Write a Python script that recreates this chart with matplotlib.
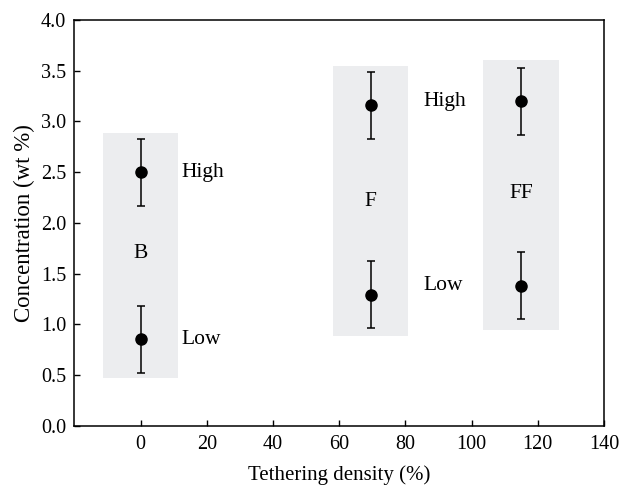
import matplotlib
matplotlib.use("Agg")
import matplotlib.pyplot as plt
from matplotlib.patches import Rectangle

plt.rcParams['font.family'] = ['Liberation Serif', 'DejaVu Serif']
plt.rcParams['font.size'] = 15

# Data
groups = ["B", "F", "FF"]
x_pos = [0, 69.5, 115]
high_vals = [2.50, 3.16, 3.20]
low_vals = [0.85, 1.29, 1.38]
err = [0.33, 0.33, 0.33]
box_x = [(-11.5, 11.2), (58.2, 80.9), (103.6, 126.4)]
box_y = [(0.47, 2.89), (0.88, 3.55), (0.94, 3.61)]
group_label_y = [1.70, 2.21, 2.285]

fig = plt.figure(figsize=(6.2, 4.87), dpi=100)
ax = fig.add_axes([0.120, 0.126, 0.854, 0.833])

for (x0, x1), (y0, y1) in zip(box_x, box_y):
    ax.add_patch(Rectangle((x0, y0), x1 - x0, y1 - y0, facecolor='#ecedef',
                           edgecolor='none', zorder=0))

ax.errorbar(x_pos, high_vals, yerr=err, fmt='o', color='black', markersize=8,
            capsize=3, elinewidth=1.1, capthick=1.1, zorder=3)
ax.errorbar(x_pos, low_vals, yerr=err, fmt='o', color='black', markersize=8,
            capsize=3, elinewidth=1.1, capthick=1.1, zorder=3)

for g, x, y in zip(groups, x_pos, group_label_y):
    ax.text(x, y, g, ha='center', va='center', fontsize=15.5)

ax.text(12.2, high_vals[0], "High", ha='left', va='center', fontsize=15.5)
ax.text(12.2, low_vals[0], "Low", ha='left', va='center', fontsize=15.5)
ax.text(85.5, high_vals[2], "High", ha='left', va='center', fontsize=15.5)
ax.text(85.5, low_vals[2], "Low", ha='left', va='center', fontsize=15.5)

ax.set_xlim(-20, 140)
ax.set_ylim(0, 4.0)
ax.set_xticks([0, 20, 40, 60, 80, 100, 120, 140])
ax.set_yticks([0.0, 0.5, 1.0, 1.5, 2.0, 2.5, 3.0, 3.5, 4.0])
ax.set_yticklabels([f"{v:.1f}" for v in ax.get_yticks()])
ax.tick_params(direction='in', length=4, width=1, labelsize=14.5)
ax.tick_params(axis='y', pad=6)
ax.tick_params(axis='x', pad=7)
for s in ax.spines.values():
    s.set_linewidth(1.1)

ax.set_xlabel("Tethering density (%)", fontsize=15, labelpad=8)
ax.set_ylabel("Concentration (wt %)", fontsize=16.5, labelpad=4)

fig.savefig("out.png", dpi=100)
